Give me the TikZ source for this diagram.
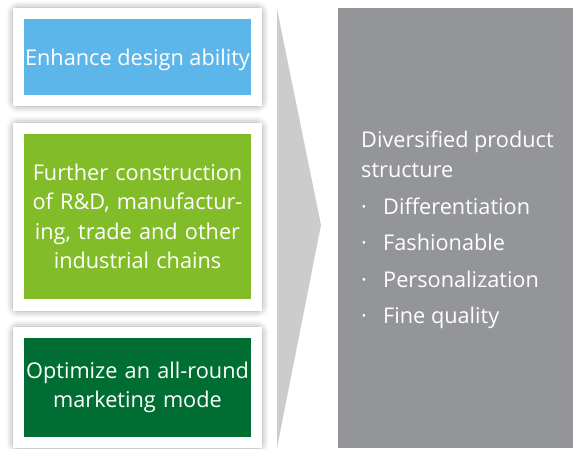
\documentclass[tikz,border=0pt]{standalone}
\usepackage{fontspec}
\setmainfont{Open Sans}
\usetikzlibrary{shadows.blur}
\definecolor{boxblue}{HTML}{5DB6E9}
\definecolor{boxlgreen}{HTML}{82BC28}
\definecolor{boxdgreen}{HTML}{006E33}
\definecolor{panelgray}{HTML}{939598}
\definecolor{chevgray}{HTML}{CCCCCC}
\tikzset{
  frame/.style={draw=none, fill=white, minimum width=249pt, inner sep=0pt,
    blur shadow={shadow xshift=0pt, shadow yshift=0pt, shadow blur radius=7pt, shadow blur extra rounding=5pt, shadow opacity=40}},
  inner/.style={draw=none, minimum width=227pt, inner sep=0pt, text=white, align=center,
    font=\fontsize{21.7}{29.5}\selectfont},
  paneltext/.style={anchor=base west, inner sep=0pt, text=white, font=\fontsize{21.7}{24}\selectfont}
}
\begin{document}
\begin{tikzpicture}[x=1pt,y=-1pt]
\useasboundingbox (0,0) rectangle (573,448);
% chevron
\fill[chevgray] (277,9) -- (321,225) -- (277,448) -- cycle;
% right panel
\fill[panelgray] (338,8) rectangle (573,448);
% frames
\node[frame, minimum height=98pt] (f1) at (137.5,57) {};
\node[frame, minimum height=188pt] (f2) at (137.5,217) {};
\node[frame, minimum height=121pt] (f3) at (137.5,387.5) {};
% inner boxes
\node[inner, fill=boxblue, minimum height=76pt, text height=20pt, text depth=4pt] (b1) at (137.5,57) {Enhance design ability};
\node[inner, fill=boxlgreen, minimum height=165pt, text width=227pt] (b2) at (137.5,216.5)
  {Further construction\\of R\&D, manufactur-\\ing, trade and other\\industrial chains};
\node[inner, fill=boxdgreen, minimum height=99pt, text width=227pt] (b3) at (137.5,387.5)
  {Optimize an all-round\\marketing mode};
% panel text
\node[paneltext] (t1) at (361,147) {Diversified product};
\node[paneltext] (t2) at (361,177) {structure};
\node[paneltext] (d1) at (361,214) {·};
\node[paneltext] (i1) at (383,214) {Differentiation};
\node[paneltext] (d2) at (361,250) {·};
\node[paneltext] (i2) at (383,250) {Fashionable};
\node[paneltext] (d3) at (361,287) {·};
\node[paneltext] (i3) at (383,287) {Personalization};
\node[paneltext] (d4) at (361,323) {·};
\node[paneltext] (i4) at (383,323) {Fine quality};
\end{tikzpicture}
\end{document}
